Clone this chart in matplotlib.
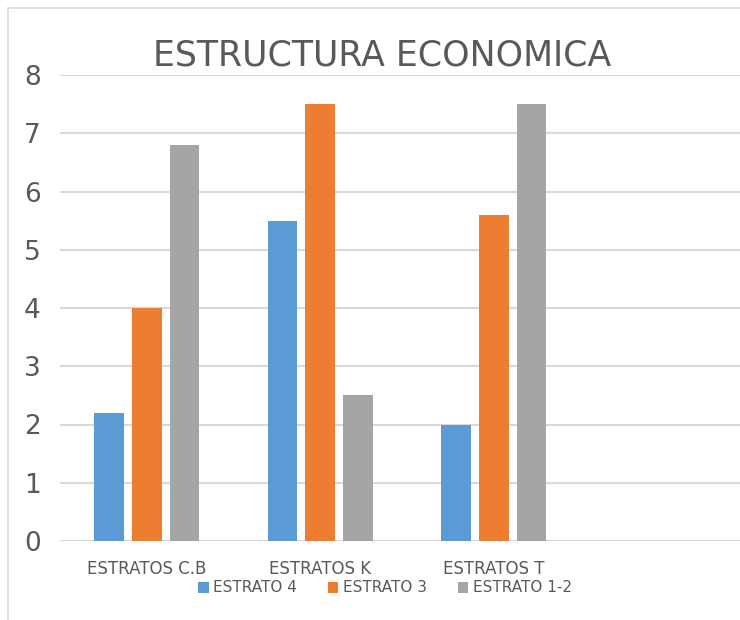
import matplotlib.pyplot as plt
import numpy as np
from matplotlib.patches import Rectangle

# chart values
categorias = ['ESTRATOS C.B', 'ESTRATOS K', 'ESTRATOS T', '']
estrato_4 = [2.2, 5.5, 2.0]
estrato_3 = [4.0, 7.5, 5.6]
estrato_12 = [6.8, 2.5, 7.5]
series = ['ESTRATO 4', 'ESTRATO 3', 'ESTRATO 1-2']
colores = ['#5B9BD5', '#ED7D31', '#A5A5A5']

plt.rcParams['font.family'] = ['Liberation Sans Narrow', 'DejaVu Sans']
gris_texto = '#595959'

fig = plt.figure(figsize=(7.4, 6.2), dpi=100)
ax = fig.add_axes([60 / 740, 79 / 620, 680 / 740, 466 / 620])

# outer chart border (cropped on the right and bottom)
fig.patches.append(Rectangle((8 / 740, -0.1), 1.2, (612 / 620) + 0.1,
                             transform=fig.transFigure, fill=False,
                             edgecolor='#D9D9D9', linewidth=1.2))

x = np.arange(3)
paso = 0.218
ancho = 0.172
for i, (vals, nombre, c) in enumerate(zip([estrato_4, estrato_3, estrato_12], series, colores)):
    ax.bar(x + (i - 1) * paso, vals, width=ancho, color=c, label=nombre, zorder=3)

ax.set_ylim(0, 8)
ax.set_xlim(-0.5, 680 / 173.5 - 0.5)
ax.set_yticks(range(0, 9))
ax.set_xticks(range(4))
ax.set_xticklabels(categorias)
ax.yaxis.grid(True, color='#D9D9D9', linewidth=1.5, zorder=0)
ax.set_axisbelow(True)
for s in ['top', 'right', 'left', 'bottom']:
    ax.spines[s].set_visible(False)
ax.tick_params(axis='y', length=0, pad=14, labelsize=19, labelcolor=gris_texto)
ax.tick_params(axis='x', length=0, pad=14, labelsize=12, labelcolor=gris_texto)

fig.text(382 / 740, 1 - 55 / 620, 'ESTRUCTURA ECONOMICA', ha='center', va='center',
         fontsize=25, color=gris_texto)

fig.legend(loc='center', bbox_to_anchor=(385 / 740, 1 - 588 / 620), ncol=3,
           frameon=False, fontsize=11, handlelength=0.7, handleheight=0.7,
           handletextpad=0.3, columnspacing=2.0, labelcolor=gris_texto)

fig.savefig('out.png', dpi=100, facecolor='white')
